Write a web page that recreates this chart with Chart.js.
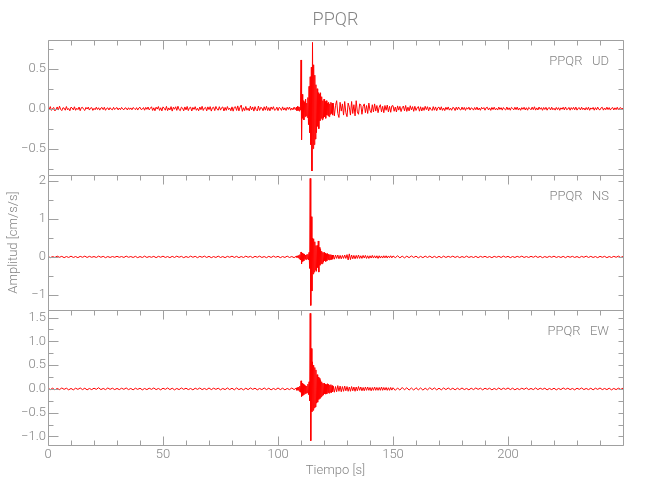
<!DOCTYPE html>
<html lang="es">
<head>
<meta charset="utf-8">
<title>PPQR</title>
<script src="https://cdn.jsdelivr.net/npm/chart.js@4.4.0/dist/chart.umd.min.js"></script>
<style>
  html, body { margin: 0; padding: 0; background: #fff; }
  #lienzo { display: block; }
</style>
</head>
<body>
<canvas id="lienzo" width="650" height="500"></canvas>
<script>
const estacion = 'PPQR';
const componentes = ['UD', 'NS', 'EW'];

// Tramos de muestreo: inicio (s), paso (s), numero de muestras
const tramosUD = [
  { inicio: 0, paso: 0.5, n: 216 },
  { inicio: 108, paso: 0.25, n: 64 },
  { inicio: 124, paso: 0.5, n: 52 },
  { inicio: 150, paso: 0.5, n: 201 }
];
const tramosHoriz = [
  { inicio: 0, paso: 1, n: 108 },
  { inicio: 108, paso: 0.25, n: 64 },
  { inicio: 124, paso: 0.5, n: 52 },
  { inicio: 150, paso: 1, n: 101 }
];

// Componente UD (cm/s/s)
const udPre = [
  0.018,-0.012,0.026,-0.021,0.004,0.015,-0.028,-0.006,0.022,-0.017,0.031,-0.009,
  -0.024,0.012,0.007,-0.019,0.027,-0.014,0.003,-0.026,0.019,0.009,-0.015,0.024,
  -0.02,0.006,-0.011,0.021,-0.025,0.013,0.017,-0.008,-0.022,0.016,-0.004,0.02,
  -0.017,0.009,0.014,-0.021,0.005,-0.013,0.019,-0.01,0.012,-0.018,0.008,0.015,
  -0.012,0.018,-0.02,0.004,0.011,-0.016,0.013,-0.007,-0.014,0.017,-0.011,0.006,
  0.014,-0.015,0.009,-0.012,0.016,-0.005,-0.013,0.011,0.007,-0.016,0.012,-0.009,
  0.01,-0.014,0.015,0.003,-0.012,0.013,-0.017,0.008,0.018,-0.011,-0.006,0.014,
  -0.019,0.016,-0.008,0.021,-0.015,0.006,0.024,-0.022,0.011,-0.026,0.019,-0.005,
  0.027,-0.021,0.012,-0.028,0.023,0.006,-0.019,0.029,-0.024,0.01,-0.016,0.026,
  -0.03,0.018,-0.007,0.024,-0.021,0.031,-0.012,-0.025,0.02,0.008,-0.027,0.022,
  -0.015,0.028,-0.024,0.011,0.019,-0.029,0.016,-0.009,0.025,-0.02,0.005,-0.026,
  0.021,-0.013,0.03,-0.022,0.008,0.017,-0.027,0.023,-0.011,0.026,-0.03,0.012,
  0.019,-0.024,0.028,-0.006,-0.02,0.025,-0.018,0.013,0.022,-0.029,0.016,-0.021,
  0.027,-0.012,0.009,-0.026,0.023,-0.031,0.018,0.024,-0.022,0.035,-0.028,0.02,
  0.045,-0.033,0.012,-0.024,0.028,-0.019,0.007,-0.027,0.031,-0.015,0.022,-0.03,
  0.026,-0.011,-0.028,0.033,-0.021,0.017,0.009,-0.026,0.024,-0.018,0.03,-0.023,
  0.014,-0.027,0.022,-0.008,0.025,-0.02,-0.013,0.019,-0.024,0.016,0.006,-0.021,
  0.023,-0.017,0.011,-0.022,0.018,-0.009,0.021,-0.019,0.008,-0.015,0.02,-0.012
];
const udSismo = [
  0.02,-0.025,0.03,-0.02,
  0.025,-0.03,0.02,-0.015,
  0.61,-0.39,0.18,-0.12,
  0.1,-0.14,0.08,-0.1,
  0.12,-0.09,0.07,-0.11,
  0.14,-0.2,0.28,-0.3,
  0.4,-0.45,0.52,-0.78,
  0.83,-0.5,0.55,-0.45,
  0.42,-0.38,0.3,-0.3,
  0.25,-0.22,0.2,-0.25,
  0.18,-0.15,0.2,-0.12,
  0.15,-0.14,0.1,-0.12,
  0.12,-0.1,0.09,-0.12,
  0.1,-0.08,0.07,-0.09,
  0.08,-0.1,0.06,-0.07,
  0.08,-0.06,0.07,-0.08
];
const udCoda = [
  0.07,-0.09,0.04,0.1,-0.06,-0.11,0.08,-0.03,0.06,-0.08,0.09,-0.05,
  -0.1,0.07,0.02,-0.08,0.09,-0.06,0.05,-0.09,0.1,-0.04,-0.07,0.06,
  0.05,-0.07,0.03,0.06,-0.05,0.04,-0.06,0.07,-0.02,-0.05,0.05,-0.04,
  0.06,-0.03,0.04,-0.05,0.02,0.05,-0.04,0.03,-0.05,0.04,-0.02,0.045,
  -0.04,0.03,-0.045,0.035
];
const udCola = [
  0.038,-0.032,0.021,-0.041,0.035,-0.018,0.029,-0.036,0.012,0.033,-0.027,0.04,
  -0.034,0.019,-0.028,0.037,-0.015,0.026,-0.033,0.03,-0.022,0.011,0.027,-0.031,
  0.024,-0.029,0.016,-0.021,0.03,-0.012,0.025,-0.027,0.018,-0.008,-0.023,0.026,
  -0.019,0.022,-0.025,0.012,0.02,-0.017,0.024,-0.021,0.009,-0.024,0.018,-0.011,
  0.022,-0.018,0.007,-0.02,0.016,0.01,-0.023,0.019,-0.014,0.021,-0.008,-0.017,
  0.02,-0.012,0.016,-0.021,0.013,-0.006,0.019,-0.017,0.011,0.004,-0.018,0.015,
  -0.013,0.02,-0.016,0.009,-0.02,0.017,-0.004,0.014,-0.019,0.012,0.018,-0.015,
  0.01,-0.021,0.016,-0.011,0.019,-0.014,0.005,-0.017,0.02,-0.009,0.013,-0.018,
  0.015,-0.006,-0.016,0.021,-0.013,0.011,-0.019,0.017,0.004,-0.015,0.018,-0.012,
  0.02,-0.017,0.009,-0.02,0.014,-0.008,0.018,-0.016,0.012,-0.019,0.016,0.003,
  -0.014,0.019,-0.012,0.024,-0.018,0.01,-0.016,0.021,-0.007,0.013,-0.02,0.015,
  -0.01,0.017,-0.019,0.008,0.014,-0.016,0.019,-0.013,0.006,-0.018,0.016,-0.011,
  0.013,-0.02,0.011,-0.007,0.018,-0.015,0.021,-0.012,-0.005,0.016,-0.019,0.014,
  -0.009,0.017,-0.014,0.02,-0.018,0.006,0.013,-0.016,0.019,-0.011,0.008,-0.017,
  0.015,-0.012,0.018,-0.02,0.01,-0.006,0.016,-0.019,0.013,-0.014,0.02,-0.009,
  -0.015,0.012,0.017,-0.018,0.009,-0.013,0.019,-0.011,0.014,-0.017,0.006,0.015,
  -0.016,0.011,-0.012,0.018,-0.014,0.008,0.013,-0.01,0.009
];

// Componente NS
const nsPre = [
  0.015,-0.02,0.01,-0.015,0.02,-0.01,0.015,-0.02,0.01,-0.015,
  0.02,-0.015,0.01,-0.02,0.015,-0.01,0.02,-0.015,0.015,-0.01,
  0.01,-0.015,0.02,-0.01,0.015,-0.02,0.01,-0.015,0.01,-0.01,
  0.015,-0.01,0.01,-0.015,0.02,-0.01,0.01,-0.015,0.015,-0.02,
  0.01,-0.015,0.02,-0.015,0.01,-0.01,0.015,-0.02,0.015,-0.01,
  0.02,-0.015,0.01,-0.02,0.015,-0.015,0.02,-0.01,0.015,-0.02,
  0.01,-0.015,0.02,-0.01,0.015,-0.02,0.015,-0.01,0.02,-0.015,
  0.015,-0.02,0.01,-0.015,0.02,-0.015,0.01,-0.02,0.015,-0.01,
  0.02,-0.015,0.015,-0.02,0.01,-0.015,0.02,-0.01,0.015,-0.02,
  0.015,-0.01,0.02,-0.015,0.01,-0.02,0.015,-0.015,0.02,-0.01,
  0.015,-0.02,0.01,-0.015,0.02,-0.015,0.01,-0.02
];
const nsSismo = [
  0.02,-0.015,0.03,-0.02,
  0.04,-0.05,0.06,-0.08,
  0.13,-0.18,0.1,-0.12,
  0.08,-0.1,0.07,-0.06,
  0.05,-0.07,0.06,-0.05,
  0.07,-0.08,0.12,-0.3,
  2.07,-1.28,1.06,-0.9,
  0.5,-0.45,0.48,-0.4,
  0.4,-0.35,0.3,-0.38,
  0.3,-0.28,0.42,-0.4,
  0.25,-0.22,0.2,-0.18,
  0.15,-0.18,0.12,-0.14,
  0.12,-0.1,0.1,-0.12,
  0.08,-0.1,0.09,-0.07,
  0.07,-0.08,0.06,-0.07,
  0.06,-0.07,0.05,-0.06
];
const nsCoda = [
  0.05,-0.06,0.05,-0.04,0.05,-0.05,0.04,-0.05,0.04,-0.04,
  0.05,-0.04,0.06,-0.08,0.08,-0.07,0.05,-0.05,0.04,-0.05,
  0.04,-0.04,0.05,-0.04,0.03,-0.04,0.04,-0.03,0.04,-0.04,
  0.03,-0.04,0.03,-0.03,0.04,-0.03,0.03,-0.03,0.03,-0.04,
  0.03,-0.03,0.025,-0.03,0.03,-0.025,0.03,-0.03,0.025,-0.02,0.03,-0.025
];
const nsCola = [
  0.025,-0.02,0.03,-0.025,0.02,-0.025,0.02,-0.02,0.025,-0.015,
  0.02,-0.025,0.015,-0.02,0.02,-0.015,0.02,-0.02,0.015,-0.02,
  0.015,-0.02,0.02,-0.015,0.015,-0.01,0.02,-0.015,0.015,-0.02,
  0.01,-0.015,0.02,-0.015,0.01,-0.015,0.015,-0.02,0.015,-0.01,
  0.015,-0.015,0.01,-0.02,0.015,-0.01,0.015,-0.015,0.02,-0.01,
  0.015,-0.02,0.01,-0.015,0.015,-0.01,0.02,-0.015,0.01,-0.015,
  0.015,-0.01,0.02,-0.015,0.015,-0.02,0.01,-0.015,0.015,-0.01,
  0.02,-0.015,0.01,-0.015,0.015,-0.02,0.015,-0.01,0.015,-0.015,
  0.01,-0.02,0.015,-0.01,0.02,-0.015,0.015,-0.015,0.01,-0.02,
  0.015,-0.01,0.015,-0.02,0.01,-0.015,0.015,-0.01,0.02,-0.015,0.01
];

// Componente EW
const ewPre = [
  0.02,-0.015,0.015,-0.02,0.01,-0.015,0.02,-0.01,0.015,-0.02,
  0.01,-0.02,0.015,-0.01,0.02,-0.015,0.015,-0.02,0.01,-0.015,
  0.015,-0.01,0.025,-0.015,0.01,-0.015,0.02,-0.01,0.015,-0.015,
  0.01,-0.015,0.015,-0.01,0.02,-0.015,0.01,-0.02,0.015,-0.01,
  0.015,-0.02,0.01,-0.015,0.015,-0.01,0.02,-0.015,0.01,-0.02,
  0.015,-0.01,0.02,-0.015,0.015,-0.02,0.01,-0.015,0.02,-0.01,
  0.015,-0.015,0.01,-0.02,0.015,-0.01,0.02,-0.015,0.01,-0.015,
  0.02,-0.015,0.015,-0.01,0.015,-0.02,0.01,-0.015,0.02,-0.015,
  0.015,-0.02,0.02,-0.015,0.01,-0.02,0.015,-0.015,0.02,-0.01,
  0.015,-0.02,0.01,-0.015,0.02,-0.015,0.015,-0.02,0.01,-0.015,
  0.02,-0.015,0.015,-0.02,0.01,-0.015,0.02,-0.015
];
const ewSismo = [
  0.02,-0.03,0.03,-0.025,
  0.04,-0.05,0.06,-0.07,
  0.17,-0.16,0.12,-0.14,
  0.1,-0.12,0.08,-0.1,
  0.07,-0.09,0.06,-0.08,
  0.1,-0.12,0.15,-0.25,
  1.59,-1.09,0.85,-0.48,
  0.57,-0.45,0.5,-0.4,
  0.45,-0.38,0.4,-0.3,
  0.3,-0.28,0.25,-0.22,
  0.22,-0.2,0.18,-0.17,
  0.15,-0.14,0.12,-0.13,
  0.12,-0.1,0.1,-0.11,
  0.09,-0.1,0.11,-0.08,
  0.1,-0.09,0.08,-0.07,
  0.09,-0.08,0.07,-0.06
];
const ewCoda = [
  0.06,-0.07,0.05,-0.06,0.07,-0.05,0.06,-0.06,0.05,-0.05,
  0.06,-0.04,0.05,-0.05,0.04,-0.05,0.05,-0.04,0.04,-0.05,
  0.04,-0.04,0.05,-0.03,0.04,-0.04,0.03,-0.04,0.04,-0.03,
  0.04,-0.03,0.03,-0.04,0.03,-0.03,0.04,-0.03,0.03,-0.03,
  0.03,-0.03,0.04,-0.03,0.03,-0.025,0.03,-0.03,0.025,-0.03,0.03,-0.025
];
const ewCola = [
  0.025,-0.03,0.02,-0.025,0.03,-0.02,0.025,-0.025,0.02,-0.025,
  0.025,-0.02,0.02,-0.025,0.015,-0.02,0.025,-0.015,0.02,-0.02,
  0.015,-0.02,0.02,-0.015,0.02,-0.015,0.015,-0.02,0.015,-0.015,
  0.02,-0.015,0.01,-0.02,0.015,-0.015,0.02,-0.01,0.015,-0.02,
  0.015,-0.01,0.015,-0.02,0.01,-0.015,0.02,-0.015,0.015,-0.01,
  0.02,-0.015,0.015,-0.02,0.01,-0.015,0.015,-0.01,0.02,-0.015,
  0.01,-0.015,0.02,-0.015,0.015,-0.01,0.015,-0.02,0.01,-0.015,
  0.015,-0.02,0.01,-0.015,0.02,-0.01,0.015,-0.015,0.01,-0.02,
  0.015,-0.01,0.02,-0.015,0.01,-0.015,0.015,-0.02,0.015,-0.01,
  0.02,-0.015,0.01,-0.015,0.015,-0.02,0.01,-0.015,0.015,-0.01,0.015
];

const fuente = "'Roboto', 'Liberation Sans Narrow', sans-serif";
const colorTexto = '#858585';
const colorEje = '#a0a0a0';
const colorTraza = '#ff0000';

// Eje de tiempo a partir de los tramos
function armarTiempo(tramos) {
  const t = [];
  tramos.forEach(tr => {
    for (let i = 0; i < tr.n; i++) t.push(tr.inicio + i * tr.paso);
  });
  return t;
}

const tiempos = {
  UD: armarTiempo(tramosUD),
  NS: armarTiempo(tramosHoriz),
  EW: armarTiempo(tramosHoriz)
};

const trazas = {
  UD: udPre.concat(udSismo, udCoda, udCola),
  NS: nsPre.concat(nsSismo, nsCoda, nsCola),
  EW: ewPre.concat(ewSismo, ewCoda, ewCola)
};

Object.keys(trazas).forEach(k => {
  if (trazas[k].length !== tiempos[k].length) {
    console.warn('Longitud distinta en ' + k + ': ' + trazas[k].length + ' vs ' + tiempos[k].length);
  }
});

function esMultiplo(v, m) {
  const q = v / m;
  return Math.abs(q - Math.round(q)) < 1e-6;
}

function formato(v, dec) {
  const s = Math.abs(v) < 1e-9 ? (0).toFixed(dec) : v.toFixed(dec);
  return s.replace('-', '\u2212');
}

const fuenteEje = { family: fuente, size: 13, weight: 300 };

function ejeY(min, max, paso, mayor, dec, peso) {
  return {
    type: 'linear',
    position: 'left',
    stack: 'sismo',
    stackWeight: 1,
    weight: peso,
    min: min,
    max: max,
    afterFit: s => { s.width = 48; },
    border: { display: false },
    grid: { display: false, drawTicks: false },
    ticks: {
      stepSize: paso,
      includeBounds: false,
      autoSkip: false,
      padding: 2,
      color: colorTexto,
      font: fuenteEje,
      callback: v => esMultiplo(v, mayor) ? formato(v, dec) : ''
    }
  };
}

const escalaNS = ejeY(-1.40, 2.16, 0.5, 1, 0, 2);
escalaNS.title = {
  display: true,
  text: 'Amplitud [cm/s/s]',
  color: colorTexto,
  font: fuenteEje,
  padding: { top: 6, bottom: 0 }
};

const ordenEjes = ['yUD', 'yNS', 'yEW'];

// Marcos de cada panel, marcas hacia dentro y rótulos de componente
const marcos = {
  id: 'marcos',
  afterDatasetsDraw(chart) {
    const { ctx, chartArea, scales } = chart;
    const ejeX = scales.x;
    const izq = Math.round(chartArea.left) + 0.5;
    const der = Math.round(chartArea.right) + 0.5;
    ctx.save();
    ctx.strokeStyle = colorEje;
    ctx.lineWidth = 1;
    ordenEjes.forEach((id, i) => {
      const s = scales[id];
      const arriba = Math.round(s.top) + 0.5;
      const abajo = Math.round(s.bottom) + 0.5;
      ctx.beginPath();
      ctx.rect(izq, arriba, der - izq, abajo - arriba);
      s.ticks.forEach(t => {
        const py = Math.round(s.getPixelForValue(t.value)) + 0.5;
        const largo = t.label !== '' ? 10 : 5;
        ctx.moveTo(izq, py);
        ctx.lineTo(izq + largo, py);
        ctx.moveTo(der, py);
        ctx.lineTo(der - 5, py);
      });
      ejeX.ticks.forEach(t => {
        const px = Math.round(ejeX.getPixelForValue(t.value)) + 0.5;
        const largo = t.value % 50 === 0 ? 9 : 5;
        ctx.moveTo(px, arriba);
        ctx.lineTo(px, arriba + largo);
        if (i === ordenEjes.length - 1) {
          ctx.moveTo(px, abajo);
          ctx.lineTo(px, abajo - largo);
        }
      });
      ctx.stroke();

      ctx.fillStyle = colorTexto;
      ctx.font = '300 13px ' + fuente;
      ctx.textAlign = 'right';
      ctx.textBaseline = 'middle';
      ctx.fillText(estacion + '   ' + componentes[i], chartArea.right - 14, s.top + 22);
    });
    ctx.restore();
  }
};

const ctx = document.getElementById('lienzo').getContext('2d');

new Chart(ctx, {
  type: 'line',
  data: {
    datasets: componentes.map(c => ({
      label: estacion + ' ' + c,
      yAxisID: 'y' + c,
      data: tiempos[c].map((t, i) => ({ x: t, y: trazas[c][i] })),
      borderColor: colorTraza,
      borderWidth: 1,
      pointRadius: 0,
      tension: 0,
      fill: false
    }))
  },
  options: {
    responsive: false,
    animation: false,
    events: [],
    layout: { padding: { left: 0, right: 27, top: 0, bottom: 0 } },
    plugins: {
      legend: { display: false },
      tooltip: { enabled: false },
      title: {
        display: true,
        text: estacion,
        fullSize: false,
        color: colorTexto,
        font: { family: fuente, size: 18, weight: 300 },
        padding: { top: 10, bottom: 8.4 }
      }
    },
    scales: {
      x: {
        type: 'linear',
        position: 'bottom',
        min: 0,
        max: 250,
        afterFit: s => { s.height = 55; },
        border: { display: false },
        grid: { display: false, drawTicks: false },
        ticks: {
          stepSize: 10,
          autoSkip: false,
          maxRotation: 0,
          includeBounds: false,
          padding: 2,
          color: colorTexto,
          font: fuenteEje,
          callback: v => (v % 50 === 0 && v < 250) ? String(v) : ''
        },
        title: {
          display: true,
          text: 'Tiempo [s]',
          color: colorTexto,
          font: fuenteEje,
          padding: { top: 0, bottom: 21 }
        }
      },
      yEW: ejeY(-1.18, 1.66, 0.25, 0.5, 1, 1),
      yNS: escalaNS,
      yUD: ejeY(-0.83, 0.86, 0.25, 0.5, 1, 3)
    }
  },
  plugins: [marcos]
});
</script>
</body>
</html>
